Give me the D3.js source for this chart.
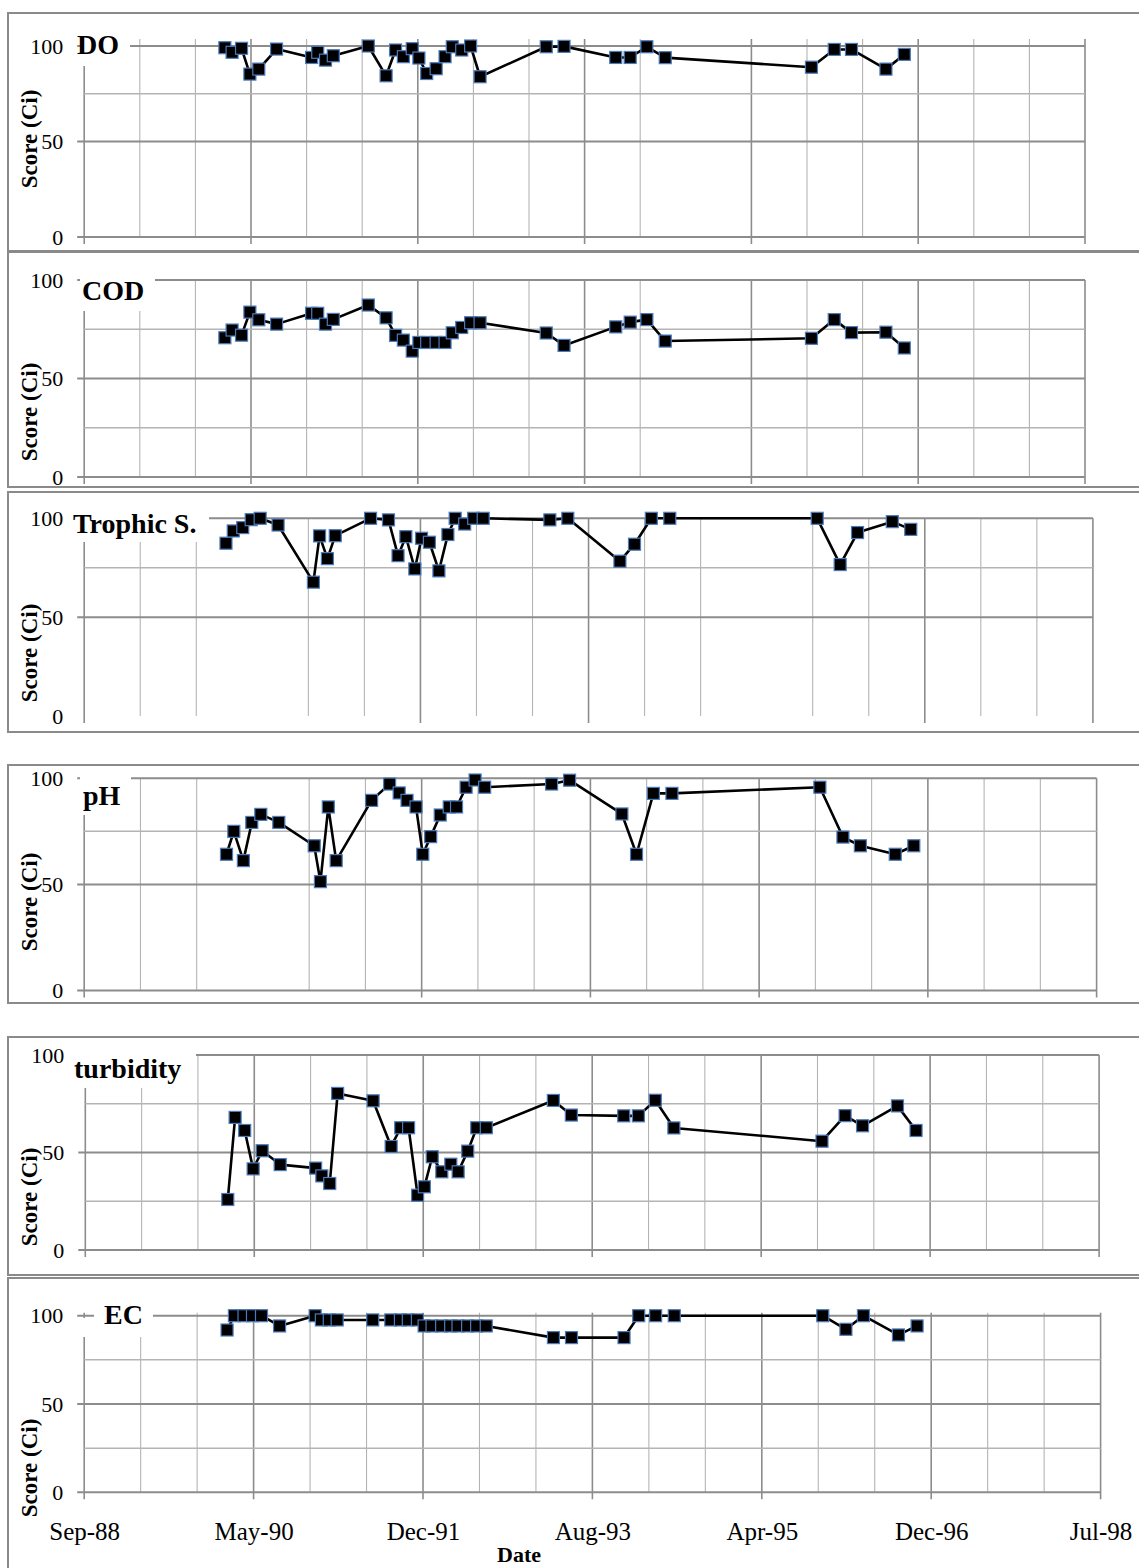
<!DOCTYPE html>
<html><head><meta charset="utf-8">
<script src="https://cdn.jsdelivr.net/npm/d3@7"></script>
<style>
html,body{margin:0;padding:0;background:#fff;}
svg{display:block;}
text{font-family:"Liberation Serif","Times New Roman",serif;fill:#000;}
</style></head>
<body>
<svg id="chart" width="1139" height="1568"></svg>
<script>
// ---------- DATA ----------
const sampleDates = ["1990-01-31","1990-02-26","1990-04-01","1990-05-01","1990-06-02","1990-08-05",
  "1990-12-09","1990-12-31","1991-01-28","1991-02-25","1991-07-01","1991-09-03",
  "1991-10-07","1991-11-04","1991-12-06","1991-12-30","1992-01-27","1992-03-01",
  "1992-04-02","1992-04-28","1992-06-01","1992-07-03","1992-08-06","1993-04-01",
  "1993-06-04","1993-12-07","1994-01-28","1994-03-29","1994-06-03","1995-11-11",
  "1996-02-01","1996-04-03","1996-08-05","1996-10-10"];
const doScores = [99.1,96.7,98.8,85.3,87.9,98.4,94,96.7,92.6,94.9,100,84.4,97.9,94.4,98.6,93.7,85.6,88.1,94.4,99.6,97.9,100,83.9,99.6,99.8,94,94,99.6,93.9,88.9,98.2,98.2,87.9,95.6];
const codScores = [70.7,74.6,72,83.7,79.8,77.6,83.1,83.1,77.6,80,87.3,80.8,71.9,69.5,63.9,68.3,68.3,68.3,68.3,73.2,75.9,78.3,78.3,73.1,66.8,76.2,78.6,79.9,69,70.4,79.9,73.3,73.5,65.5];
const trophicScores = [87.4,93.6,95.3,99.3,100,96.6,67.7,91.1,79.6,91.2,100,99.2,81.1,90.7,74.4,89.9,87.9,73.4,91.8,100,97.1,100,100,99.2,100,78.3,86.9,100,100,100,76.6,92.8,98.3,94.4];
const phScores = [64.2,75,61.2,79.2,83,79.2,68.2,51.3,86.5,61.2,89.6,97.3,93.1,89.6,86.5,64.2,72.5,82.7,86.5,86.5,95.8,99.2,95.8,97.3,99.1,83.2,64.2,92.9,92.9,95.8,72.3,68.2,64.2,68.2];
const turbidityScores = [25.9,68,61.3,41.6,50.9,43.8,42,38,34.1,80.3,76.5,53.1,62.7,62.7,28.1,32.4,47.8,40.1,44,40.1,50.7,62.7,62.7,76.7,69.2,68.8,68.8,76.8,62.6,55.8,68.9,63.7,73.9,61.3];
const ecScores = [91.9,100,100,100,100,94.2,100,97.6,97.6,97.6,97.6,97.6,97.6,97.6,97.6,94.2,94.2,94.2,94.2,94.2,94.2,94.2,94.2,87.6,87.6,87.6,100,100,100,100,92.3,100,89.1,94.2];
const panelTitles = ["DO","COD","Trophic S.","pH","turbidity","EC"];
const yTickValues = [0,50,100];
const xTickLabels = ["Sep-88","May-90","Dec-91","Aug-93","Apr-95","Dec-96","Jul-98"];
const yAxisTitle = "Score (Ci)";
const xAxisTitle = "Date";
const seriesList = [doScores, codScores, trophicScores, phScores, turbidityScores, ecScores];

// ---------- LAYOUT (positions / styles only) ----------
const axisStart = new Date(1988, 8, 12);
const minorDays = 200, minorCount = 18;
const layout = [
  {box:[8,13,251],  x0:84.2, x1:1085,   y100:46,    y0:237,    h:[100,75,50,0],      skip:[11],  vTop:7, title:[77,54],    masks:[[83,35,47,31]],                  yTitle:139},
  {box:[8,252,487], x0:84.2, x1:1085,   y100:280,   y0:477,    h:[100,75,50,25,0],   skip:[11],  vTop:0, title:[82,300],   masks:[[80,262,75,49]],                 yTitle:412},
  {box:[8,492,732], x0:84.2, x1:1092.9, y100:518.3, y0:716,    h:[100,75,50],        skip:[3,12],vTop:0, title:[73,533],   masks:[[70,500,139,42]],                yTitle:653},
  {box:[8,765,1003],x0:84.2, x1:1096.6, y100:778.3, y0:990.5,  h:[100,75,50,0],      skip:[3],   vTop:0, title:[83,805],   masks:[[80,770,51,45]],                 yTitle:902},
  {box:[8,1037,1275],x0:85.3,x1:1099.1, y100:1055,  y0:1250,   h:[100,75,50,25,0],   skip:[],    vTop:0, title:[74,1078],  masks:[[70,1045,126,43]],               yTitle:1197},
  {box:[8,1278,1600],x0:84.2,x1:1100.6, y100:1315.7,y0:1492.3, h:[100,75,50,25,0],   skip:[],    vTop:3, title:[104,1324], masks:[[94,1300,59,37],[80,1318,8,19]], yTitle:1468, bottomAxis:true}
];

const svg = d3.select("#chart");
const parse = d3.timeParse("%Y-%m-%d");
const dates = sampleDates.map(parse);
const gridDates = d3.range(0, minorCount + 1).map(i => d3.timeDay.offset(axisStart, i * minorDays));
const majorDates = gridDates.filter((d, i) => i % 3 === 0);
const axisEnd = gridDates[minorCount];

layout.forEach((L, p) => {
  const g = svg.append("g");
  g.append("rect").attr("x", L.box[0]).attr("y", L.box[1])
    .attr("width", 1200).attr("height", L.box[2] - L.box[1])
    .attr("fill", "#fff").attr("stroke", "#8a8a8a").attr("stroke-width", 2);

  const x = d3.scaleTime().domain([axisStart, axisEnd]).range([L.x0, L.x1]);
  const y = d3.scaleLinear().domain([0, 100]).range([L.y0, L.y100]);

  gridDates.forEach((d, i) => {
    if (L.skip.includes(i)) return;
    const major = i % 3 === 0;
    g.append("line")
      .attr("x1", x(d)).attr("x2", x(d))
      .attr("y1", y(100) - L.vTop).attr("y2", y(0) + (major ? 7 : 0))
      .attr("stroke", major ? "#8c8c8c" : "#b4b4b4")
      .attr("stroke-width", major ? 1.6 : 1.1);
  });
  L.h.forEach(v => {
    const major = v % 50 === 0;
    g.append("line")
      .attr("x1", major ? L.x0 - 7 : L.x0).attr("x2", L.x1)
      .attr("y1", y(v)).attr("y2", y(v))
      .attr("stroke", major ? "#8c8c8c" : "#b4b4b4")
      .attr("stroke-width", major ? 2 : 1.5);
  });

  const yAxis = d3.axisLeft(y).tickValues(yTickValues).tickSize(0).tickPadding(21);
  const ya = g.append("g").attr("transform", `translate(${L.x0},0)`).call(yAxis);
  ya.select(".domain").remove();
  ya.selectAll("text").attr("font-size", 22).attr("font-family", "Liberation Serif").attr("fill", "#000");

  if (L.bottomAxis) {
    const xAxis = d3.axisBottom(x).tickValues(majorDates).tickSize(0).tickPadding(30)
      .tickFormat((d, i) => xTickLabels[i]);
    const xa = g.append("g").attr("transform", `translate(0,${L.y0})`).call(xAxis);
    xa.select(".domain").remove();
    xa.selectAll("text").attr("font-size", 25).attr("font-family", "Liberation Serif").attr("fill", "#000");
    g.append("text").attr("x", 519).attr("y", 1562).attr("text-anchor", "middle")
      .attr("font-size", 22).attr("font-weight", "bold").text(xAxisTitle);
  }

  L.masks.forEach(m => g.append("rect").attr("x", m[0]).attr("y", m[1])
    .attr("width", m[2]).attr("height", m[3]).attr("fill", "#fff"));
  g.append("text").attr("x", L.title[0]).attr("y", L.title[1])
    .attr("font-size", 28).attr("font-weight", "bold").text(panelTitles[p]);

  g.append("text").attr("transform", `translate(37,${L.yTitle}) rotate(-90)`)
    .attr("text-anchor", "middle").attr("font-size", 23).attr("font-weight", "bold")
    .text(yAxisTitle);

  const vals = seriesList[p];
  const pts = dates.map((d, i) => ({d, v: vals[i]}));
  const line = d3.line().x(e => x(e.d)).y(e => y(e.v));
  g.append("path").datum(pts).attr("d", line)
    .attr("fill", "none").attr("stroke", "#000").attr("stroke-width", 2.6)
    .attr("stroke-linejoin", "round");
  g.selectAll("rect.mk").data(pts).enter().append("rect").attr("class", "mk")
    .attr("x", e => x(e.d) - 6).attr("y", e => y(e.v) - 6)
    .attr("width", 12).attr("height", 12)
    .attr("fill", "#000").attr("stroke", "#4a7bbd").attr("stroke-width", 1.2);
});
</script>
</body></html>
